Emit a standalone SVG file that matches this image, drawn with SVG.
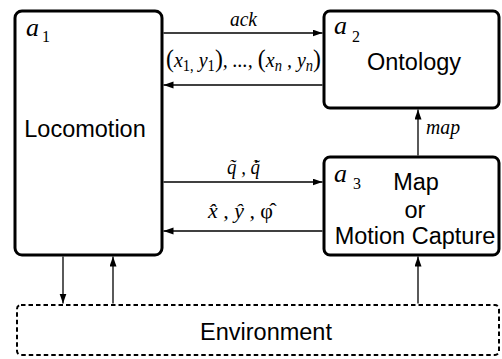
<svg xmlns="http://www.w3.org/2000/svg" width="502" height="359" viewBox="0 0 502 359">
<style>
.box{fill:#fff;stroke:#000;stroke-width:3}
.env{fill:#fff;stroke:#000;stroke-width:2;stroke-dasharray:4.5 3}
.lbl{font-family:"Liberation Sans",Arial,sans-serif;font-size:23.5px;fill:#000;text-anchor:middle}
.math{font-family:"Liberation Serif","Times New Roman",serif;font-style:italic;font-size:22px;fill:#000}
.ag{font-family:"Liberation Serif","Times New Roman",serif;font-style:italic;font-size:26px;fill:#000}
.sub{font-family:"Liberation Serif","Times New Roman",serif;font-size:16px;fill:#000}
.ln{stroke:#000;stroke-width:1.3;fill:none;marker-end:url(#ah)}
</style>
<defs>
<marker id="ah" markerUnits="userSpaceOnUse" markerWidth="11" markerHeight="8" refX="10" refY="3.5" orient="auto">
<path d="M0,0 L10,3.5 L0,7 z" fill="#000"/>
</marker>
</defs>
<g id="connectors">
<line class="ln" x1="163.5" y1="33" x2="322.5" y2="33"/>
<line class="ln" x1="322.5" y1="85" x2="163.5" y2="85"/>
<line class="ln" x1="163.5" y1="182" x2="322.5" y2="182"/>
<line class="ln" x1="322.5" y1="231" x2="163.5" y2="231"/>
<line class="ln" x1="418" y1="155.5" x2="418" y2="109.5"/>
<line class="ln" x1="63" y1="256.5" x2="63" y2="303.5"/>
<line class="ln" x1="113" y1="303.5" x2="113" y2="256.5"/>
<line class="ln" x1="418" y1="303.5" x2="418" y2="256.5"/>
<text class="math" x="230" y="26" textLength="27" lengthAdjust="spacingAndGlyphs">ack</text>
<text class="math" x="166" y="67" textLength="155" lengthAdjust="spacingAndGlyphs"><tspan font-size="26" font-style="normal">(</tspan>x<tspan class="sub" dy="4" font-style="normal">1,</tspan><tspan dy="-4"> y</tspan><tspan class="sub" dy="4" font-style="normal">1</tspan><tspan dy="-4" font-size="26" font-style="normal">)</tspan>, ..., <tspan font-size="26" font-style="normal">(</tspan>x<tspan class="sub" dy="4">n</tspan><tspan dy="-4"> , y</tspan><tspan class="sub" dy="4">n</tspan><tspan dy="-4" font-size="26" font-style="normal">)</tspan></text>
<text class="math" x="227" y="174" textLength="33" lengthAdjust="spacingAndGlyphs">q̃ , q̃̇</text>
<text class="math" x="208" y="218" textLength="65" lengthAdjust="spacingAndGlyphs">x̂ , ŷ , <tspan font-style="normal">φ̂</tspan></text>
<text class="math" x="426" y="134" textLength="34" lengthAdjust="spacingAndGlyphs">map</text>
</g>
<g id="a1">
<rect class="box" x="15" y="11" width="147" height="244" rx="7"/>
<text class="ag" x="26" y="36">a</text><text class="sub" x="42" y="42">1</text>
<text class="lbl" x="85" y="137">Locomotion</text>
</g>
<g id="a2">
<rect class="box" x="324" y="11" width="175" height="97" rx="6"/>
<text class="ag" x="334" y="34">a</text><text class="sub" x="352" y="42">2</text>
<text class="lbl" x="414" y="70">Ontology</text>
</g>
<g id="a3">
<rect class="box" x="324" y="157" width="175" height="98" rx="6"/>
<text class="ag" x="334" y="182">a</text><text class="sub" x="353" y="189">3</text>
<text class="lbl" x="416" y="190">Map</text>
<text class="lbl" x="415" y="218">or</text>
<text class="lbl" x="415" y="244">Motion Capture</text>
</g>
<g id="environment">
<rect class="env" x="17" y="305" width="482" height="50" rx="4"/>
<text class="lbl" x="266" y="340">Environment</text>
</g>
</svg>
